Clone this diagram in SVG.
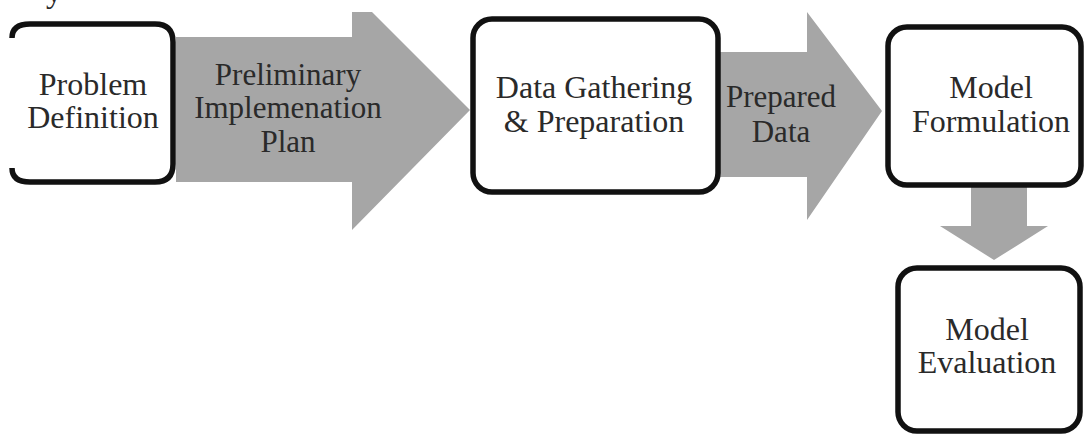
<svg xmlns="http://www.w3.org/2000/svg" width="1084" height="434" viewBox="0 0 1084 434">
<style>
.box{fill:#fff;stroke:#111;stroke-width:5.5}
.arr{fill:#a6a6a6;stroke:none}
.lbl{font-family:'Liberation Serif','DejaVu Serif','Noto Serif',serif;fill:#2a2a2a;text-anchor:middle}
.t32{font-size:32px}
.t31{font-size:31px}
</style>
<rect width="1084" height="434" fill="#fff"/>
<text class="lbl t32" x="54" y="2">y</text>
<g id="connectors">
<polygon id="arrow-plan" class="arr" points="176,37 352,37 352,12 372,12 470,110 352,230 352,182 176,182"/>
<polygon id="arrow-data" class="arr" points="718,52 807,52 807,12 882,111 807,220 807,177 718,177"/>
<polygon id="arrow-down" class="arr" points="971,186 1027,186 1027,226 1048,226 994,260 940,226 971,226"/>
<text class="lbl t31" x="288" y="85">Preliminary</text>
<text class="lbl t31" x="288" y="118">Implemenation</text>
<text class="lbl t31" x="288" y="152">Plan</text>
<text class="lbl t31" x="781" y="107">Prepared</text>
<text class="lbl t31" x="781" y="142">Data</text>
</g>
<g id="node-problem">
<path class="box" d="M12 38 Q12 24 30 24 H155 Q173 24 173 42 V164 Q173 182 155 182 H30 Q12 182 12 168"/>
<text class="lbl t32" x="93" y="95">Problem</text>
<text class="lbl t32" x="93" y="128">Definition</text>
</g>
<g id="node-data">
<rect class="box" x="473" y="19" width="245" height="173" rx="19"/>
<text class="lbl t32" x="594" y="98">Data Gathering</text>
<text class="lbl t32" x="594" y="132">&amp; Preparation</text>
</g>
<g id="node-formulation">
<rect class="box" x="888" y="27" width="193" height="158" rx="19"/>
<text class="lbl t32" x="991" y="98">Model</text>
<text class="lbl t32" x="991" y="132">Formulation</text>
</g>
<g id="node-evaluation">
<rect class="box" x="898" y="268" width="182" height="163" rx="19"/>
<text class="lbl t32" x="987" y="340">Model</text>
<text class="lbl t32" x="987" y="373">Evaluation</text>
</g>
</svg>
